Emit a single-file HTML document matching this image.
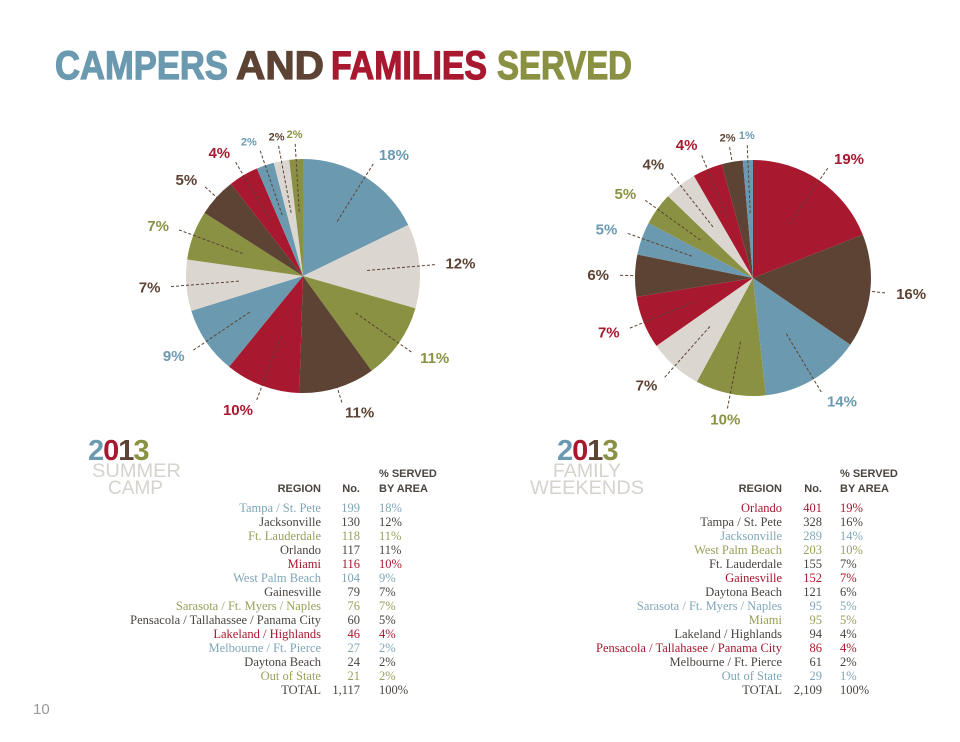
<!DOCTYPE html>
<html><head><meta charset="utf-8"><style>
html,body{margin:0;padding:0;background:#fff;}
svg{display:block;}
</style></head><body>
<svg id="page" width="960" height="742" viewBox="0 0 960 742" xmlns="http://www.w3.org/2000/svg">
<g font-family="Liberation Sans, sans-serif" font-weight="bold" font-size="40">
<text x="55" y="79" textLength="173" lengthAdjust="spacingAndGlyphs" fill="#6b9ab0" stroke="#6b9ab0" stroke-width="1.2">CAMPERS</text>
<text x="236" y="79" textLength="88" lengthAdjust="spacingAndGlyphs" fill="#5c4334" stroke="#5c4334" stroke-width="1.2">AND</text>
<text x="331" y="79" textLength="156" lengthAdjust="spacingAndGlyphs" fill="#a8182f" stroke="#a8182f" stroke-width="1.2">FAMILIES</text>
<text x="497" y="79" textLength="135" lengthAdjust="spacingAndGlyphs" fill="#8a9142" stroke="#8a9142" stroke-width="1.2">SERVED</text>
</g>
<g id="leftPie"></g>
<g id="rightPie"></g>
<g id="leftTable"></g>
<g id="rightTable"></g>
<g>
<text x="88" y="460" font-family="Liberation Sans, sans-serif" font-weight="bold" font-size="29" letter-spacing="-1"><tspan fill="#6b9ab0">2</tspan><tspan fill="#a8182f">0</tspan><tspan fill="#5c4334">1</tspan><tspan fill="#8a9142">3</tspan></text>
<text x="92" y="477" font-family="Liberation Sans, sans-serif" font-size="19" fill="#d6d2ce" textLength="89" lengthAdjust="spacingAndGlyphs">SUMMER</text>
<text x="108" y="494" font-family="Liberation Sans, sans-serif" font-size="19" fill="#d6d2ce" textLength="55" lengthAdjust="spacingAndGlyphs">CAMP</text>
</g>
<g>
<text x="557" y="460" font-family="Liberation Sans, sans-serif" font-weight="bold" font-size="29" letter-spacing="-1"><tspan fill="#6b9ab0">2</tspan><tspan fill="#a8182f">0</tspan><tspan fill="#5c4334">1</tspan><tspan fill="#8a9142">3</tspan></text>
<text x="553" y="477" font-family="Liberation Sans, sans-serif" font-size="19" fill="#d6d2ce" textLength="68" lengthAdjust="spacingAndGlyphs">FAMILY</text>
<text x="530" y="494" font-family="Liberation Sans, sans-serif" font-size="19" fill="#d6d2ce" textLength="114" lengthAdjust="spacingAndGlyphs">WEEKENDS</text>
</g>
<text x="33" y="714" font-family="Liberation Sans, sans-serif" font-size="15" fill="#999">10</text>
</svg>
<script>
const leftRegions=["Tampa / St. Pete","Jacksonville","Ft. Lauderdale","Orlando","Miami","West Palm Beach","Gainesville","Sarasota / Ft. Myers / Naples","Pensacola / Tallahassee / Panama City","Lakeland / Highlands","Melbourne / Ft. Pierce","Daytona Beach","Out of State"];
const leftCounts=[199,130,118,117,116,104,79,76,60,46,27,24,21];
const leftPcts=["18%","12%","11%","11%","10%","9%","7%","7%","5%","4%","2%","2%","2%"];
const leftTotal="1,117";
const rightRegions=["Orlando","Tampa / St. Pete","Jacksonville","West Palm Beach","Ft. Lauderdale","Gainesville","Daytona Beach","Sarasota / Ft. Myers / Naples","Miami","Lakeland / Highlands","Pensacola / Tallahasee / Panama City","Melbourne / Ft. Pierce","Out of State"];
const rightCounts=[401,328,289,203,155,152,121,95,95,94,86,61,29];
const rightPcts=["19%","16%","14%","10%","7%","7%","6%","5%","5%","4%","4%","2%","1%"];
const rightTotal="2,109";

const NS="http://www.w3.org/2000/svg";
const C={blue:"#6b9ab0",light:"#dcd6d0",olive:"#8a9142",brown:"#5c4334",red:"#a8182f"};
const TXT={blue:"#6b9ab0",light:"#5c4334",olive:"#8a9142",brown:"#5c4334",red:"#a8182f"};
const TBL={blue:"#7fa6b8",light:"#4a4440",olive:"#9aa05a",brown:"#4a4440",red:"#a8182f"};
function mk(tag,attrs,parent){const e=document.createElementNS(NS,tag);for(const k in attrs)e.setAttribute(k,attrs[k]);parent.appendChild(e);return e;}
function pt(cx,cy,r,a){return [cx+r*Math.sin(a),cy-r*Math.cos(a)];}
function drawPie(g,counts,pcts,cycle,cx,cy,r){
  const tot=counts.reduce((a,b)=>a+b,0);let a0=0;
  counts.forEach((v,i)=>{
    const a1=a0+v/tot*2*Math.PI;const col=cycle[i%cycle.length];
    const p0=pt(cx,cy,r,a0),p1=pt(cx,cy,r,a1);
    const s=mk("path",{d:`M${cx},${cy}L${p0[0]},${p0[1]}A${r},${r} 0 ${a1-a0>Math.PI?1:0} 1 ${p1[0]},${p1[1]}Z`,fill:C[col]},g);
    
    
    const m=(a0+a1)/2;const q0=pt(cx,cy,r*0.55,m),q1=pt(cx,cy,r+16,m);
    const l=mk("line",{x1:q0[0],y1:q0[1],x2:q1[0],y2:q1[1],stroke:"#5c4334","stroke-width":1,"stroke-dasharray":"3,2"},g);
    
    
    const lp=pt(cx,cy,r+26,m);const sm=v/tot<0.03;
    const t=mk("text",{x:lp[0],y:lp[1]+5,"text-anchor":Math.sin(m)>0.2?"start":(Math.sin(m)<-0.2?"end":"middle"),"font-family":"Liberation Sans, sans-serif","font-weight":"bold","font-size":sm?11:15,fill:TXT[col]},g);
    
    
    t.textContent=pcts[i];a0=a1;
  });
}
function drawTable(g,regions,counts,pcts,total,cycle,xr,xn,xp){
  const hf={"font-family":"Liberation Sans, sans-serif","font-weight":"bold","font-size":11,fill:"#4a4440"};
  let t=mk("text",Object.assign({x:xr,y:492,"text-anchor":"end"},hf),g);t.textContent="REGION";
  
  
  t=mk("text",Object.assign({x:xn,y:492,"text-anchor":"end"},hf),g);t.textContent="No.";
  
  
  t=mk("text",Object.assign({x:xp,y:477},hf),g);t.textContent="% SERVED";
  
  
  t=mk("text",Object.assign({x:xp,y:492},hf),g);t.textContent="BY AREA";
  
  
  const rows=regions.concat(["TOTAL"]);
  rows.forEach((name,i)=>{
    const y=512+i*14;const col=i<regions.length?TBL[cycle[i%cycle.length]]:"#4a4440";
    const f={"font-family":"Liberation Serif, serif","font-size":12.5,fill:col};
    let a=mk("text",Object.assign({x:xr,y:y,"text-anchor":"end"},f),g);a.textContent=name;
    
    
    let b=mk("text",Object.assign({x:xn,y:y,"text-anchor":"end"},f),g);b.textContent=i<regions.length?counts[i]:total;
    
    
    let c=mk("text",Object.assign({x:xp,y:y},f),g);c.textContent=i<regions.length?pcts[i]:"100%";
    
    
  });
}
const lc=["blue","light","olive","brown","red"],rc=["red","brown","blue","olive","light"];
drawPie(document.getElementById("leftPie"),leftCounts,leftPcts,lc,303,276,117);
drawPie(document.getElementById("rightPie"),rightCounts,rightPcts,rc,753,278,118);
drawTable(document.getElementById("leftTable"),leftRegions,leftCounts,leftPcts,leftTotal,lc,321,360,379);
drawTable(document.getElementById("rightTable"),rightRegions,rightCounts,rightPcts,rightTotal,rc,782,822,840);
</script>
</body></html>
